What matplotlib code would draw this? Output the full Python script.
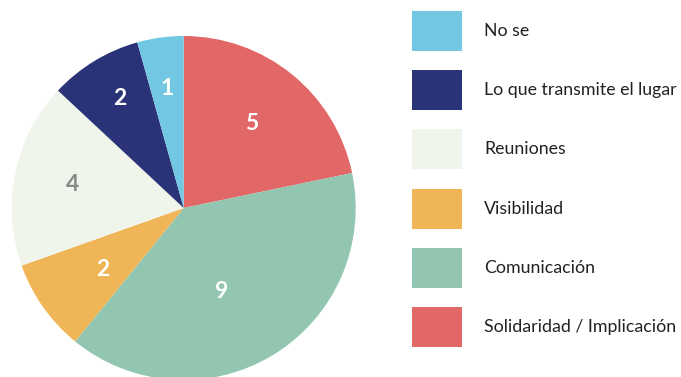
import numpy as np
import matplotlib.pyplot as plt
from matplotlib.patches import Rectangle

plt.rcParams["font.family"] = ["Lato", "DejaVu Sans"]

# slices listed clockwise from 12 o'clock
categories = ["Solidaridad / Implicación", "Comunicación", "Visibilidad",
              "Reuniones", "Lo que transmite el lugar", "No se"]
counts = [5, 9, 2, 4, 2, 1]
colors = ["#E26767", "#92C6B0", "#F0B557", "#F0F5EC", "#2A3377", "#72C7E3"]
label_colors = ["white", "white", "white", "#888888", "white", "white"]
label_dist = [0.63, 0.53, 0.59, 0.66, 0.74, 0.70]
label_turn = [0, -7, 2, 0, -1, 0]   # small angular nudges, degrees

# legend order (top to bottom)
legend_order = [5, 4, 3, 2, 1, 0]

W, H, DPI = 681, 377, 100
cx, cy, R = 183.7, 208.0, 172.0   # pie centre / radius in pixels

fig = plt.figure(figsize=(W / DPI, H / DPI), dpi=DPI)
ax = fig.add_axes([0, 0, 1, 1])

wedges, _ = ax.pie(counts, colors=colors, startangle=90, counterclock=False,
                   radius=1, center=(0, 0), wedgeprops=dict(linewidth=0))
ax.set_xlim(-cx / R, (W - cx) / R)
ax.set_ylim(-(H - cy) / R, cy / R)
ax.set_aspect("equal")
ax.axis("off")

for w, n, c, d, t in zip(wedges, counts, label_colors, label_dist, label_turn):
    mid = np.deg2rad((w.theta1 + w.theta2) / 2 + t)
    ax.text(d * np.cos(mid), d * np.sin(mid), str(n), ha="center", va="center",
            color=c, fontsize=16.5, fontweight="bold")

# legend drawn in pixel space
lg = fig.add_axes([0, 0, 1, 1], facecolor="none")
lg.set_xlim(0, W)
lg.set_ylim(H, 0)
lg.axis("off")
box_x, box_y0, box_w, box_h, step = 412, 11, 50, 40, 59.2
for row, i in enumerate(legend_order):
    y = box_y0 + row * step
    lg.add_patch(Rectangle((box_x, y), box_w, box_h, facecolor=colors[i],
                           edgecolor="none"))
    lg.text(484, y + box_h / 2, categories[i], ha="left", va="center",
            fontsize=12.8, color="#222222")

fig.savefig("out.png", dpi=DPI)
